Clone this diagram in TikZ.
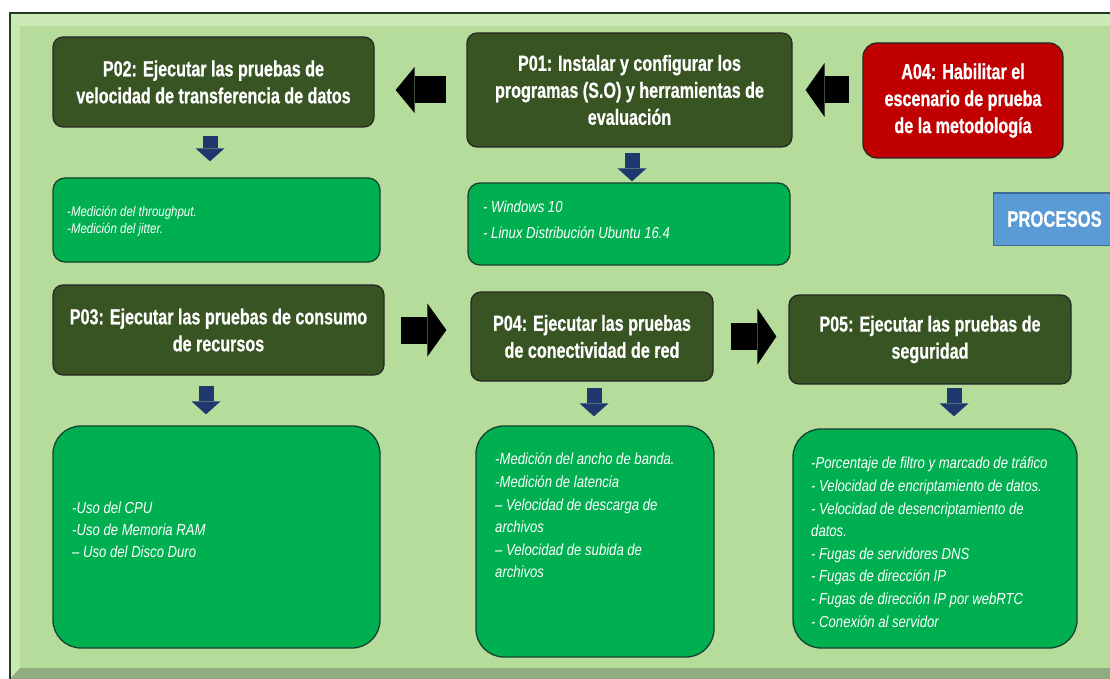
\documentclass[tikz,border=0pt]{standalone}
\usepackage{fontspec}
\newfontfamily\narrowfont{Liberation Sans}[FakeStretch=0.82]
\newfontfamily\headfont{Liberation Sans}[FakeStretch=0.74, BoldFeatures={FakeBold=0.6}]
\usepackage{tikz}
\usetikzlibrary{arrows.meta, calc}

\definecolor{panelgreen}{RGB}{181,220,154}
\definecolor{bevellight}{RGB}{203,234,182}
\definecolor{bevelshade}{RGB}{146,170,128}
\definecolor{frameline}{RGB}{38,56,30}
\definecolor{boxdark}{RGB}{56,84,35}
\definecolor{itemgreen}{RGB}{0,176,80}
\definecolor{itemedge}{RGB}{22,66,48}
\definecolor{alertred}{RGB}{192,0,0}
\definecolor{navyarrow}{RGB}{31,56,110}
\definecolor{labelblue}{RGB}{91,155,213}

\tikzset{
  titlebox/.style={draw=black!85, line width=1.2pt, fill=boxdark, rounded corners=10pt,
    text=white, align=center, inner sep=0pt,
    font=\headfont\bfseries\fontsize{21.8}{27}\selectfont},
  itembox/.style={draw=itemedge, line width=1.3pt, fill=itemgreen, rounded corners=#1, inner sep=0pt},
  itembox/.default=12pt,
  itemtext/.style={text=white, align=left, inner sep=0pt, anchor=north west,
    font=\narrowfont\itshape\fontsize{16}{22.6}\selectfont},
  bigarrow/.style={line width=27pt, black, -{Triangle[length=19pt, width=#1, line width=0pt]}},
  bigarrow/.default=54pt,
  downarrow/.style={line width=15pt, navyarrow, -{Triangle[length=13pt, width=29pt, line width=0pt]}}
}

\begin{document}
\begin{tikzpicture}[x=1pt, y=-1pt]
    \useasboundingbox (0,0) rectangle (1110,679);
    \fill[white] (0,0) rectangle (1110,679);

    % bevelled frame
    \fill[panelgreen] (10,13) rectangle (1125,679);
    \fill[bevellight] (10,13) -- (1125,13) -- (1125,26) -- (20,26) -- cycle;
    \fill[bevellight!90!panelgreen] (10,13) -- (20,26) -- (20,668) -- (10,679) -- cycle;
    \fill[bevelshade] (10,679) -- (20,668) -- (1125,668) -- (1125,679) -- cycle;
    \draw[frameline, line width=2pt] (1125,13) -- (10,13) -- (10,679);

    % upper row
    \node[titlebox, minimum width=321, minimum height=90] (p02) at (213.5,82)
        {P02: Ejecutar las pruebas de\\velocidad de transferencia de datos};
    \node[titlebox, minimum width=325, minimum height=114] (p01) at (629.5,90)
        {P01: Instalar y configurar los\\programas (S.O) y herramientas de\\evaluación};
    \node[titlebox, fill=alertred, rounded corners=14pt, minimum width=200, minimum height=115] (a04) at (963,100.5)
        {A04: Habilitar el\\escenario de prueba\\de la metodología};
    \node[draw=labelblue!70!black, line width=1pt, fill=labelblue, text=white, minimum width=123, minimum height=52,
        font=\headfont\bfseries\fontsize{22.5}{24}\selectfont] (proc) at (1054.5,219) {PROCESOS};

    \node[itembox] (d02) at (216.5,220) [minimum width=327, minimum height=84] {};
    \node[itemtext, font=\narrowfont\itshape\fontsize{14}{17}\selectfont] (t02) at (67,206)
        {-Medición del throughput.\\-Medición del jitter.};
    \node[itembox] (d01) at (629,224) [minimum width=322, minimum height=82] {};
    \node[itemtext, font=\narrowfont\itshape\fontsize{16}{26}\selectfont] (t01) at (483,201)
        {- Windows 10\\- Linux Distribución Ubuntu 16.4};

    % lower row
    \node[titlebox, minimum width=331, minimum height=90] (p03) at (218.5,330)
        {P03: Ejecutar las pruebas de consumo\\de recursos};
    \node[titlebox, minimum width=242, minimum height=89] (p04) at (592,336.5)
        {P04: Ejecutar las pruebas\\de conectividad de red};
    \node[titlebox, minimum width=282, minimum height=89] (p05) at (930,339.5)
        {P05: Ejecutar las pruebas de\\seguridad};

    \node[itembox=28pt] (d03) at (216.5,537) [minimum width=327, minimum height=222] {};
    \node[itemtext, font=\narrowfont\itshape\fontsize{16}{22}\selectfont] (t03) at (72,502)
        {-Uso del CPU\\-Uso de Memoria RAM\\– Uso del Disco Duro};
    \node[itembox=28pt] (d04) at (595,541.5) [minimum width=238, minimum height=231] {};
    \node[itemtext] (t04) at (495,453)
        {-Medición del ancho de banda.\\-Medición de latencia\\– Velocidad de descarga de\\archivos\\– Velocidad de subida de\\archivos};
    \node[itembox=28pt] (d05) at (935,538.5) [minimum width=284, minimum height=219] {};
    \node[itemtext] (t05) at (811,457)
        {-Porcentaje de filtro y marcado de tráfico\\- Velocidad de encriptamiento de datos.\\- Velocidad de desencriptamiento de\\datos.\\- Fugas de servidores DNS\\- Fugas de dirección IP\\- Fugas de dirección IP por webRTC\\- Conexión al servidor};

    % flow between the steps
    \draw[bigarrow=46pt, shorten <=20pt, shorten >=21pt] (p01.west) -- (p01.west -| p02.east);
    \draw[bigarrow, shorten <=13pt, shorten >=13pt] (a04.west |- p01.east) -- (p01.east);
    \draw[bigarrow=53pt, shorten <=16pt, shorten >=24pt] (p03.east) -- (p04.west |- p03.east);
    \draw[bigarrow=56pt, shorten <=17pt, shorten >=12pt] (p04.east) -- (p05.west |- p04.east);

    \draw[downarrow, shorten <=8pt, shorten >=16pt] ([xshift=-3.5pt]p02.south) -- ([xshift=-3.5pt]p02.south |- d02.north);
    \draw[downarrow, shorten <=5pt, shorten >=1pt] ([xshift=2.5pt]p01.south) -- ([xshift=2.5pt]p01.south |- d01.north);
    \draw[downarrow, shorten <=10pt, shorten >=11pt] ([xshift=-12.5pt]p03.south) -- ([xshift=-12.5pt]p03.south |- d03.north);
    \draw[downarrow, shorten <=6pt, shorten >=9pt] ([xshift=2pt]p04.south) -- ([xshift=2pt]p04.south |- d04.north);
    \draw[downarrow, shorten <=3pt, shorten >=12pt] ([xshift=24pt]p05.south) -- ([xshift=24pt]p05.south |- d05.north);
\end{tikzpicture}
\end{document}
